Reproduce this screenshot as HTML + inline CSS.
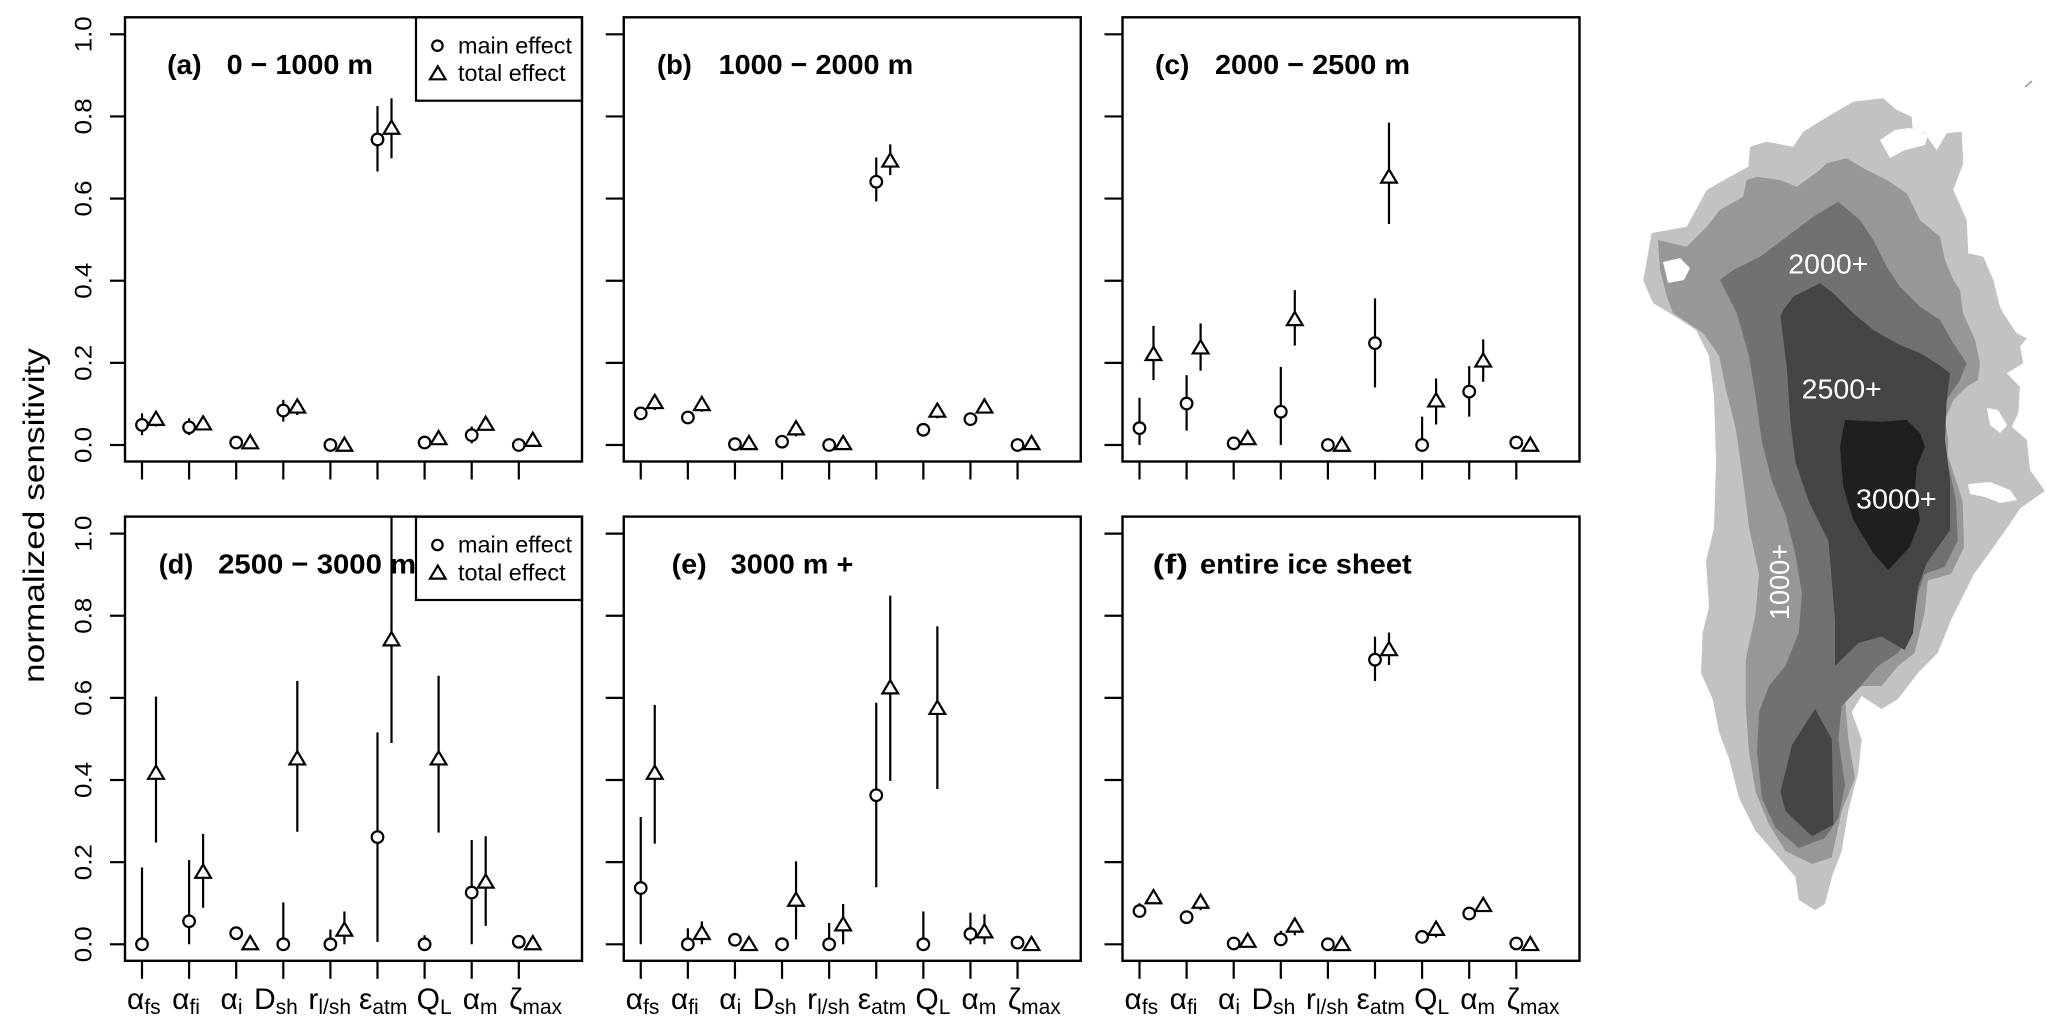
<!DOCTYPE html>
<html>
<head>
<meta charset="utf-8">
<style>
html,body{margin:0;padding:0;background:#fff;}
svg{display:block;}
text{font-family:"Liberation Sans",Arial,sans-serif;}
</style>
</head>
<body>
<svg xmlns="http://www.w3.org/2000/svg" width="2067" height="1034" viewBox="0 0 2067 1034">
<rect width="2067" height="1034" fill="#fff"/>

<!-- Map -->
<g id="map" stroke="none">
<polygon fill="#c2c2c2" points="1643.3,280 1651.7,233 1686.7,226.7 1706.7,190 1730,176.7 1748.3,166.7 1750,146.7 1766.7,141.7 1793,146.7 1803.3,131.7 1833.3,113.3 1853.3,101.7 1883.3,98.3 1896.7,110 1911.7,116.7 1913.3,138.3 1923.3,131.7 1936.7,150 1946.7,133.3 1961.7,131.7 1963.3,163.3 1953.3,190 1966.7,220 1968.3,253.3 1983.3,256.7 1993.3,280 2000,306.7 2003.3,313.3 2016.7,333.3 2026.7,338.3 2020,346.7 2023.3,363.3 2006.7,373.3 2020,386.7 2018.3,413.3 2011.7,426.7 2027,440 2030,470 2045,491 2020.5,508 2007,528 1990.7,551 1974,574 1964,594 1951,620 1937.7,653 1918,673 1898,699 1881.5,709 1861.6,696 1851.7,712 1861.6,739 1858.3,772 1848.3,811 1841.7,851 1831.8,877 1825,904 1815,910 1798.7,900 1795.4,877 1778.8,857.5 1755.6,831 1739,798 1729,758.6 1719,732 1712.6,699 1701,673 1702.6,633 1709,607 1706,561 1714,528 1716,462 1714,396 1709,356 1696,330 1676,317 1653,303 1644.7,284"/>
<polygon fill="#979797" points="1658,240 1686.7,246.7 1706.7,226.7 1720,210 1743,196.7 1746.7,180 1756.7,176.7 1780,180 1796.7,186.7 1820,170 1826.7,163.3 1846.7,158.3 1866.7,170 1886.7,180 1906.7,193.3 1920,220 1940,236.7 1945,260 1953.3,280 1960,290 1963,313 1975,340 1980,363 1978,380 1966.7,386.7 1953.3,400 1945,420 1948.3,440 1947.7,455 1962.6,501 1964,547.5 1951,574 1927.8,580.5 1924.5,613.5 1914.6,653 1898,666 1881.5,686 1861.6,686 1845,699 1848.3,739 1855,778 1841.7,811 1831.8,857.5 1812,864 1785.4,851 1769,824.5 1755.6,791.6 1749,752 1745.7,706 1745.7,659.6 1755.6,613.5 1759,574 1749,527.7 1742.4,475 1735.8,429 1725.8,389 1719.2,356 1703,333 1673,313 1667,297 1660,270"/>
<polygon fill="#717171" points="1720,280 1733.3,270 1760,256.7 1786.7,236.7 1813.3,216.7 1838.3,201.7 1860,220 1873.3,240 1886.7,266.7 1900,286.7 1920,306.7 1940,320 1953.3,343.3 1966.7,363.3 1960,380 1946.7,400 1943.3,420 1941.7,440 1947.7,462 1956,501 1957.6,541 1944.4,567 1924.5,574 1918,594 1911,633 1898,653 1878,666 1858,689 1841.7,706 1838.4,739 1845,785 1838.4,818 1825,838 1798.7,848 1775.5,828 1762,798 1757,752 1759,712 1769,686 1785.4,666 1798.7,633 1802,594 1795.4,554 1785.4,514.5 1772,481.5 1762,442 1755.6,396 1749,356 1736.7,313"/>
<polygon fill="#454545" points="1783.3,310 1793.3,296.7 1820,283.3 1833.3,293.3 1853.3,313.3 1873.3,330 1896.7,343.3 1920,353.3 1936.7,363.3 1950,373.3 1946.7,400 1945,440 1950,480 1950,530 1926.7,563 1918,587 1913,633 1904.6,650 1881.5,636.5 1858.3,643 1835,666 1835,620 1831.8,580.5 1828.5,541 1808.6,501 1795.4,462 1790.4,422 1787,369.4 1780.5,316.6"/>
<polygon fill="#454545" points="1780.5,791.6 1792,745 1815,709 1831.8,739 1833.4,824.5 1812,836.4 1785.4,811"/>
<polygon fill="#1f1f1f" points="1845,420 1880,421.7 1906.7,420 1920,433.3 1925,446.7 1916.7,466.7 1915,490 1920,520 1910,546.7 1888.3,570 1873.3,553.3 1853.3,520 1843.3,486.7 1840,446.7"/>
<!-- fjords -->
<polygon fill="#fff" points="1968,484 1990,482 2010,490 2017,500 2000,503 1985,497 1970,494"/>
<polygon fill="#fff" points="1987,408 1998,410 2007,425 2000,433 1990,425"/>
<polygon fill="#fff" points="1880,140 1895,130 1910,128 1928,135 1925,145 1905,150 1890,158"/>
<polygon fill="#fff" points="1663,262 1680,258 1690,268 1684,280 1668,283"/>
<line x1="2025" y1="87" x2="2032" y2="81" stroke="#999" stroke-width="1.5"/>
</g>
<g fill="#fff" font-size="28">
<text x="1788.3" y="273.3" textLength="80" lengthAdjust="spacingAndGlyphs">2000+</text>
<text x="1801.7" y="398.3" textLength="80" lengthAdjust="spacingAndGlyphs">2500+</text>
<text x="1856" y="508.3" textLength="80.7" lengthAdjust="spacingAndGlyphs">3000+</text>
<text transform="translate(1789,582) rotate(-90)" text-anchor="middle" textLength="76" lengthAdjust="spacingAndGlyphs">1000+</text>
</g>

<!-- data -->
<g id="data" stroke="#000" stroke-width="2.2" fill="#fff"></g>

<!-- titles -->
<g font-weight="bold" font-size="28" fill="#000">
<text x="167.2" y="74" textLength="34.4" lengthAdjust="spacingAndGlyphs">(a)</text>
<text x="226.6" y="74" textLength="146.4" lengthAdjust="spacingAndGlyphs">0 − 1000 m</text>
<text x="657" y="74" textLength="34.8" lengthAdjust="spacingAndGlyphs">(b)</text>
<text x="718.6" y="74" textLength="194.6" lengthAdjust="spacingAndGlyphs">1000 − 2000 m</text>
<text x="1155" y="74" textLength="34.4" lengthAdjust="spacingAndGlyphs">(c)</text>
<text x="1215" y="74" textLength="195" lengthAdjust="spacingAndGlyphs">2000 − 2500 m</text>
<text x="158.8" y="573.3" textLength="34.5" lengthAdjust="spacingAndGlyphs">(d)</text>
<text x="218.1" y="573.3" textLength="198" lengthAdjust="spacingAndGlyphs">2500 − 3000 m</text>
<text x="671.7" y="573.3" textLength="35" lengthAdjust="spacingAndGlyphs">(e)</text>
<text x="730.7" y="573.3" textLength="122.6" lengthAdjust="spacingAndGlyphs">3000 m +</text>
<text x="1152.7" y="573.3" textLength="35.3" lengthAdjust="spacingAndGlyphs">(f)</text>
<text x="1200" y="573.3" textLength="211.7" lengthAdjust="spacingAndGlyphs">entire ice sheet</text>
</g>

<!-- legends -->
<g stroke="#000" stroke-width="2.2" fill="#fff">
<rect x="416" y="17.3" width="166" height="83.4"/>
<circle cx="437.4" cy="45.7" r="5.2"/>
<polygon points="437.8,66.3 445.6,79.3 430,79.3"/>
<rect x="416" y="516.6" width="166" height="83.4"/>
<circle cx="437.4" cy="545" r="5.2"/>
<polygon points="437.8,565.6 445.6,578.6 430,578.6"/>
</g>
<g font-size="23" fill="#000">
<text x="458" y="53.3" textLength="114" lengthAdjust="spacingAndGlyphs">main effect</text>
<text x="458" y="81" textLength="107.6" lengthAdjust="spacingAndGlyphs">total effect</text>
<text x="458" y="552.6" textLength="114" lengthAdjust="spacingAndGlyphs">main effect</text>
<text x="458" y="580.3" textLength="107.6" lengthAdjust="spacingAndGlyphs">total effect</text>
</g>

<!-- axes / frames -->
<g id="axes" stroke="#000" fill="none"></g>

<!-- y tick labels -->
<g font-size="24" fill="#000" text-anchor="middle">
<text transform="translate(91.7,445) rotate(-90)" textLength="36" lengthAdjust="spacingAndGlyphs">0.0</text>
<text transform="translate(91.7,362.9) rotate(-90)" textLength="36" lengthAdjust="spacingAndGlyphs">0.2</text>
<text transform="translate(91.7,280.7) rotate(-90)" textLength="36" lengthAdjust="spacingAndGlyphs">0.4</text>
<text transform="translate(91.7,198.5) rotate(-90)" textLength="36" lengthAdjust="spacingAndGlyphs">0.6</text>
<text transform="translate(91.7,116.4) rotate(-90)" textLength="36" lengthAdjust="spacingAndGlyphs">0.8</text>
<text transform="translate(91.7,34.3) rotate(-90)" textLength="36" lengthAdjust="spacingAndGlyphs">1.0</text>
<text transform="translate(91.7,944.3) rotate(-90)" textLength="36" lengthAdjust="spacingAndGlyphs">0.0</text>
<text transform="translate(91.7,862.2) rotate(-90)" textLength="36" lengthAdjust="spacingAndGlyphs">0.2</text>
<text transform="translate(91.7,780) rotate(-90)" textLength="36" lengthAdjust="spacingAndGlyphs">0.4</text>
<text transform="translate(91.7,697.8) rotate(-90)" textLength="36" lengthAdjust="spacingAndGlyphs">0.6</text>
<text transform="translate(91.7,615.7) rotate(-90)" textLength="36" lengthAdjust="spacingAndGlyphs">0.8</text>
<text transform="translate(91.7,533.6) rotate(-90)" textLength="36" lengthAdjust="spacingAndGlyphs">1.0</text>
</g>

<!-- y axis title -->
<text transform="translate(44,515.5) rotate(-90)" text-anchor="middle" font-size="30" fill="#000" textLength="335" lengthAdjust="spacingAndGlyphs">normalized sensitivity</text>

<!-- x tick labels -->
<g font-size="30" fill="#000">
<text x="127" y="1009">α<tspan font-size="21" dy="5">fs</tspan></text>
<text x="172.1" y="1009">α<tspan font-size="21" dy="5">fi</tspan></text>
<text x="220.5" y="1009">α<tspan font-size="21" dy="5">i</tspan></text>
<text x="254" y="1009">D<tspan font-size="21" dy="5">sh</tspan></text>
<text x="308.4" y="1009">r<tspan font-size="21" dy="5">l/sh</tspan></text>
<text x="359" y="1009">ε<tspan font-size="21" dy="5">atm</tspan></text>
<text x="416.6" y="1009">Q<tspan font-size="21" dy="5">L</tspan></text>
<text x="462.7" y="1009">α<tspan font-size="21" dy="5">m</tspan></text>
<text x="509.1" y="1009">ζ<tspan font-size="21" dy="5">max</tspan></text>

<text x="625.75" y="1009">α<tspan font-size="21" dy="5">fs</tspan></text>
<text x="670.85" y="1009">α<tspan font-size="21" dy="5">fi</tspan></text>
<text x="719.25" y="1009">α<tspan font-size="21" dy="5">i</tspan></text>
<text x="752.75" y="1009">D<tspan font-size="21" dy="5">sh</tspan></text>
<text x="807.15" y="1009">r<tspan font-size="21" dy="5">l/sh</tspan></text>
<text x="857.75" y="1009">ε<tspan font-size="21" dy="5">atm</tspan></text>
<text x="915.35" y="1009">Q<tspan font-size="21" dy="5">L</tspan></text>
<text x="961.45" y="1009">α<tspan font-size="21" dy="5">m</tspan></text>
<text x="1007.85" y="1009">ζ<tspan font-size="21" dy="5">max</tspan></text>

<text x="1124.5" y="1009">α<tspan font-size="21" dy="5">fs</tspan></text>
<text x="1169.6" y="1009">α<tspan font-size="21" dy="5">fi</tspan></text>
<text x="1218" y="1009">α<tspan font-size="21" dy="5">i</tspan></text>
<text x="1251.5" y="1009">D<tspan font-size="21" dy="5">sh</tspan></text>
<text x="1305.9" y="1009">r<tspan font-size="21" dy="5">l/sh</tspan></text>
<text x="1356.5" y="1009">ε<tspan font-size="21" dy="5">atm</tspan></text>
<text x="1414.1" y="1009">Q<tspan font-size="21" dy="5">L</tspan></text>
<text x="1460.2" y="1009">α<tspan font-size="21" dy="5">m</tspan></text>
<text x="1506.6" y="1009">ζ<tspan font-size="21" dy="5">max</tspan></text>
</g>

<script>
(function(){
var NS="http://www.w3.org/2000/svg";
var L=[125,623.75,1122.5], T=[17.3,516.6], W=457, H=444.2;
var dg=document.getElementById("data"), ag=document.getElementById("axes");
function el(p,name,attrs){var e=document.createElementNS(NS,name);for(var k in attrs)e.setAttribute(k,attrs[k]);p.appendChild(e);return e;}
function Y(r,v){return T[r]+427.7-410.7*v;}
var P=[
[[.049,.024,.077,.065,.045,.077],[.043,.024,.065,.054,.036,.061],[.006,null,null,.008,null,null],[.084,.057,.110,.095,.073,.110],[0,null,null,.002,null,null],[.744,.666,.825,.774,.698,.844],[.006,null,null,.018,null,null],[.024,.004,.045,.053,.036,.065],[0,null,null,.014,null,null]],
[[.077,.063,.090,.106,.085,.118],[.067,null,null,.101,.081,.118],[.002,null,null,.006,null,null],[.008,null,null,.042,.021,.057],[0,null,null,.006,null,null],[.641,.593,.700,.694,.657,.732],[.037,null,null,.085,.065,.102],[.063,null,null,.095,.077,.114],[0,null,null,.006,null,null]],
[[.041,0,.115,.223,.158,.290],[.101,.035,.170,.239,.181,.296],[.004,null,null,.018,null,null],[.081,0,.190,.308,.242,.377],[0,null,null,.002,null,null],[.248,.140,.357,.655,.538,.785],[0,0,.069,.110,.050,.162],[.130,.069,.192,.207,.154,.257],[.006,null,null,.002,null,null]],
[[0,0,.187,.419,.248,.603],[.056,0,.205,.178,.089,.269],[.027,null,null,.004,null,null],[0,0,.102,.454,.274,.641],[0,0,.036,.037,0,.080],[.261,.006,.516,.744,.490,1.1],[0,0,.022,.454,.272,.654],[.126,0,.254,.154,.045,.263],[.006,null,null,.004,null,null]],
[[.137,0,.310,.419,.245,.583],[0,0,.039,.029,0,.056],[.011,null,null,.002,null,null],[0,null,null,.110,.012,.202],[0,0,.052,.050,0,.098],[.363,.139,.588,.627,.398,.849],[0,0,.080,.577,.378,.774],[.025,0,.077,.033,0,.073],[.004,null,null,.002,null,null]],
[[.081,.066,.100,.116,.100,.133],[.066,null,null,.105,.083,.120],[.002,null,null,.010,null,null],[.012,0,.033,.047,.022,.064],[0,null,null,.002,null,null],[.693,.641,.749,.720,.680,.759],[.018,null,null,.039,.017,.054],[.075,null,null,.097,.079,.114],[.002,null,null,.002,null,null]]
];
function clip(v){return Math.min(v,1.041);}
for(var p=0;p<6;p++){
  var r=p<3?0:1, c=p%3, x0=L[c]+17;
  // bars
  for(var i=0;i<9;i++){
    var d=P[p][i], xm=x0+47.1*i, xt=xm+14;
    if(d[1]!==null) el(dg,"line",{x1:xm,x2:xm,y1:Y(r,d[1]),y2:Y(r,clip(d[2]))});
    if(d[4]!==null) el(dg,"line",{x1:xt,x2:xt,y1:Y(r,d[4]),y2:Y(r,clip(d[5]))});
  }
  for(var i=0;i<9;i++){
    var d=P[p][i], xm=x0+47.1*i, xt=xm+14;
    el(dg,"circle",{cx:xm,cy:Y(r,d[0]),r:5.8});
    var yc=Y(r,d[3]);
    el(dg,"polygon",{points:xt+","+(yc-6.6)+" "+(xt+7.85)+","+(yc+6.6)+" "+(xt-7.85)+","+(yc+6.6)});
  }
  // frame
  el(ag,"rect",{x:L[c],y:T[r],width:W,height:H,"stroke-width":2.4});
  // y ticks
  var tl=(c==0)?15:18;
  for(var k=0;k<=5;k++){var yy=Y(r,k*0.2);el(ag,"line",{x1:L[c]-tl,x2:L[c],y1:yy,y2:yy,"stroke-width":2.2});}
  // x ticks
  var B=T[r]+H;
  for(var i=0;i<9;i++){var xx=x0+47.1*i;el(ag,"line",{x1:xx,x2:xx,y1:B,y2:B+18,"stroke-width":2.2});}
}
})();
</script>
</svg>
</body>
</html>
